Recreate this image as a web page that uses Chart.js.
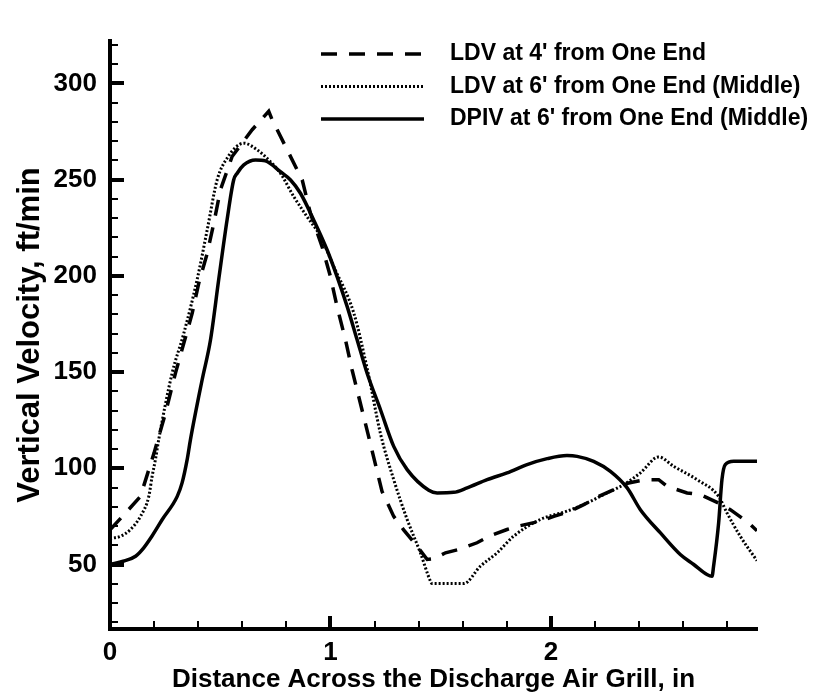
<!DOCTYPE html>
<html>
<head>
<meta charset="utf-8">
<title>Vertical Velocity across the Discharge Air Grill</title>
<script src="https://cdn.jsdelivr.net/npm/chart.js@4.4.1/dist/chart.umd.min.js"></script>
<style>
  html, body { margin: 0; padding: 0; background: #fff; }
  #chart { display: block; }
</style>
</head>
<body>
<canvas id="chart" width="837" height="698"></canvas>
<script>
// distance across the grill (in) and vertical velocity (ft/min), one pair per run
const ldv4Dist = [0, 0.093, 0.138, 0.2, 0.25, 0.297, 0.373, 0.403, 0.441, 0.471, 0.501, 0.554, 0.645, 0.72, 0.736, 0.804, 0.872, 0.909, 0.962, 1.0, 1.03, 1.068, 1.098, 1.17, 1.234, 1.287, 1.332, 1.393, 1.439, 1.47, 1.522, 1.582, 1.665, 1.726, 1.801, 1.862, 1.952, 2.013, 2.088, 2.149, 2.217, 2.285, 2.353, 2.428, 2.489, 2.527, 2.618, 2.678, 2.776, 2.814, 2.897, 2.935];
const ldv4Vel = [68, 79.6, 85.4, 108, 128, 149.5, 180.6, 196.3, 211.7, 227.4, 244.7, 262, 275.9, 285.5, 281, 265.4, 249.8, 232.5, 215.2, 199.6, 184, 166.8, 151.2, 118, 88, 75, 68, 59.5, 52.6, 53, 56.1, 57.8, 61.3, 65, 68.2, 70.2, 72.5, 75, 77.7, 81.1, 85.4, 88.9, 92.4, 94.1, 94.1, 90.6, 87.2, 86.3, 81.1, 78.5, 71.6, 67.5];

const ldv6Dist = [0, 0.048, 0.093, 0.138, 0.176, 0.191, 0.206, 0.221, 0.282, 0.335, 0.395, 0.441, 0.486, 0.531, 0.607, 0.668, 0.728, 0.773, 0.834, 0.894, 0.955, 1.015, 1.106, 1.17, 1.227, 1.287, 1.348, 1.408, 1.454, 1.461, 1.605, 1.68, 1.756, 1.831, 1.952, 2.073, 2.164, 2.255, 2.33, 2.406, 2.489, 2.557, 2.663, 2.761, 2.799, 2.859, 2.935];
const ldv6Vel = [63.5, 64.7, 68.2, 75, 85.4, 95.8, 104.5, 114.9, 149.5, 170.2, 197.9, 223.9, 249.8, 261.1, 268.9, 265.4, 259.3, 253.3, 241.1, 230.7, 220.4, 204.8, 180.6, 150, 118, 94.1, 73.4, 56.1, 41.3, 40.1, 40.1, 49.1, 56.1, 64.7, 73.4, 77.7, 82, 87.2, 91.5, 97.6, 105.9, 101, 94.1, 85.4, 76.8, 64.7, 52];

const dpivDist = [0, 0.06, 0.116, 0.153, 0.19, 0.237, 0.305, 0.327, 0.35, 0.365, 0.418, 0.456, 0.493, 0.531, 0.561, 0.577, 0.607, 0.66, 0.705, 0.773, 0.819, 0.864, 0.924, 0.985, 1.03, 1.076, 1.121, 1.166, 1.227, 1.287, 1.348, 1.446, 1.484, 1.559, 1.62, 1.711, 1.801, 1.892, 1.983, 2.073, 2.119, 2.194, 2.27, 2.346, 2.406, 2.497, 2.587, 2.648, 2.708, 2.731, 2.738, 2.761, 2.776, 2.791, 2.829, 2.935];
const dpivVel = [50, 51.7, 54.3, 58.7, 64.7, 73.4, 85.4, 92.4, 104.5, 114.9, 146, 166.8, 197.9, 229, 249.8, 253.3, 257.6, 260.2, 259.7, 254.1, 249.8, 242.9, 229, 213.4, 199.6, 184, 166.8, 149.5, 130.4, 111.4, 99.3, 88.6, 87.2, 87.5, 89.8, 94.1, 97.6, 101.9, 105, 106.6, 106.2, 103.6, 98.4, 89.8, 78.5, 66.4, 55.2, 50, 44.8, 43.9, 49.1, 71.6, 94.1, 101.9, 103.6, 103.6];

const seriesLabels = ["LDV at 4' from One End", "LDV at 6' from One End (Middle)", "DPIV at 6' from One End (Middle)"];
const xTickValues = [0, 1, 2];
const yTickValues = [50, 100, 150, 200, 250, 300];

const FONT = "'Liberation Sans', Arial, Helvetica, sans-serif";

const toPoints = (xs, ys) => xs.map((x, i) => ({ x, y: ys[i] }));

// short inward tick marks on both axes, as drawn by the plotting package
const innerTicks = {
  id: "innerTicks",
  afterDraw(chart) {
    const { ctx, chartArea, scales: { x, y } } = chart;
    ctx.save();
    ctx.strokeStyle = "#000";
    for (let v = 20; v <= 320; v += 10) {
      const py = Math.round(y.getPixelForValue(v));
      const major = v % 50 === 0;
      ctx.lineWidth = major ? 4 : 2;
      ctx.beginPath();
      ctx.moveTo(chartArea.left, py);
      ctx.lineTo(chartArea.left + (major ? 14 : 8), py);
      ctx.stroke();
    }
    for (let i = 1; i <= 14; i++) {
      const px = Math.round(x.getPixelForValue(i / 5));
      const major = i % 5 === 0;
      ctx.lineWidth = major ? 4 : 2;
      ctx.beginPath();
      ctx.moveTo(px, chartArea.bottom);
      ctx.lineTo(px, chartArea.bottom - (major ? 13 : 8));
      ctx.stroke();
    }
    ctx.restore();
  }
};

// line key in the upper right of the plot
const lineKey = {
  id: "lineKey",
  afterDraw(chart) {
    const { ctx } = chart;
    ctx.save();
    ctx.font = `bold 23px ${FONT}`;
    ctx.textBaseline = "middle";
    chart.data.datasets.forEach((ds, i) => {
      const rowY = 54 + i * 32.5;
      ctx.setLineDash(ds.borderDash || []);
      ctx.lineWidth = ds.borderWidth;
      ctx.strokeStyle = ds.borderColor;
      ctx.beginPath();
      ctx.moveTo(321, rowY);
      ctx.lineTo(424, rowY);
      ctx.stroke();
      ctx.setLineDash([]);
      ctx.fillStyle = "#000";
      ctx.fillText(ds.label, 450, rowY);
    });
    ctx.restore();
  }
};

new Chart(document.getElementById("chart"), {
  type: "line",
  data: {
    datasets: [
      { label: seriesLabels[0], data: toPoints(ldv4Dist, ldv4Vel), borderColor: "#000", borderWidth: 3.5, borderDash: [16, 12], tension: 0 },
      { label: seriesLabels[1], data: toPoints(ldv6Dist, ldv6Vel), borderColor: "#000", borderWidth: 3, borderDash: [2, 2], cubicInterpolationMode: "monotone" },
      { label: seriesLabels[2], data: toPoints(dpivDist, dpivVel), borderColor: "#000", borderWidth: 3.5, cubicInterpolationMode: "monotone" }
    ]
  },
  options: {
    responsive: false,
    animation: false,
    devicePixelRatio: 1,
    elements: { point: { radius: 0 }, line: { borderCapStyle: "butt" } },
    layout: { padding: { top: 41, right: 80, left: 0, bottom: 0 } },
    plugins: { legend: { display: false }, tooltip: { enabled: false } },
    scales: {
      x: {
        type: "linear",
        min: 0,
        max: 2.935,
        afterFit: (scale) => { scale.height = 69; },
        afterBuildTicks: (scale) => { scale.ticks = xTickValues.map((value) => ({ value })); },
        grid: { display: false, drawTicks: false },
        border: { display: true, width: 4, color: "#000" },
        ticks: { color: "#000", padding: 8, font: { family: FONT, size: 26, weight: "bold" } },
        title: { display: true, text: "Distance Across the Discharge Air Grill, in", color: "#000", padding: { top: 0, bottom: 3 }, font: { family: FONT, size: 26, weight: "bold" } }
      },
      y: {
        min: 16.5,
        max: 322,
        afterFit: (scale) => { scale.width = 110; },
        afterBuildTicks: (scale) => { scale.ticks = yTickValues.map((value) => ({ value })); },
        grid: { display: false, drawTicks: false },
        border: { display: true, width: 4, color: "#000" },
        ticks: { color: "#000", padding: 13, font: { family: FONT, size: 26, weight: "bold" } },
        title: { display: true, text: "Vertical Velocity, ft/min", color: "#000", padding: { top: 12, bottom: 0 }, font: { family: FONT, size: 31, weight: "bold" } }
      }
    }
  },
  plugins: [innerTicks, lineKey]
});
</script>
</body>
</html>
